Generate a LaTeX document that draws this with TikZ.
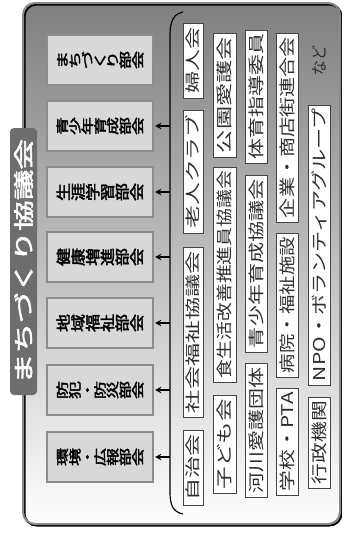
\documentclass[tikz,border=0pt]{standalone}
\usepackage{fontspec}
\usetikzlibrary{arrows.meta}
\newfontfamily\jp{Noto Sans CJK JP}
\newfontfamily\jpb[FakeBold=2.5]{Noto Sans CJK JP}
\definecolor{frame}{HTML}{8A8A8A}
\definecolor{shade}{HTML}{C4C4C4}
\definecolor{labelbg}{HTML}{6D6D6D}
\definecolor{boxbg}{HTML}{D8D8D8}
\definecolor{boxln}{HTML}{8C8C8C}
\definecolor{smln}{HTML}{444444}
\definecolor{smtx}{HTML}{2E2E2E}
\newcommand\vstk[1]{\vbox{\offinterlineskip\halign{\hfil\vrule height 0.88em depth 0.12em width 0pt ##\hfil\cr#1\crcr}}}
\begin{document}
\begin{tikzpicture}[x=1pt,y=-1pt,
  groupbox/.style={rotate=90,draw=boxln,line width=1.4pt,fill=boxbg,minimum width=50pt,minimum height=106pt,inner sep=0pt,font=\jpb,text=black},
  smallbox/.style={rotate=90,draw=smln,line width=0.8pt,fill=white,inner sep=0pt,font=\jp,text=smtx},
  arr/.style={line width=1.3pt,-{Stealth[length=6pt,width=6.5pt]},shorten >=1.5pt}]
\fill[white] (0,0) rectangle (342,533);
\useasboundingbox (0,0) rectangle (342,533);
% outer frame
\draw[shade,line width=2pt,rounded corners=12pt] (24.5,4.5) rectangle (341.5,525.5);
\draw[frame,line width=2pt,rounded corners=12pt] (23,3) rectangle (340,524);
% title label
\node[rotate=90,fill=labelbg,rounded corners=4pt,minimum width=267pt,minimum height=27pt,inner sep=0pt,font=\jpb,text=white] (title) at (23.5,261.5) {\resizebox*{245pt}{19pt}{まちづくり協議会}};
% group boxes
\node[groupbox] (b1) at (100,60)  {\resizebox*{18pt}{88pt}{\vstk{ま\cr ち\cr づ\cr く\cr り\cr 部\cr 会}}};
\node[groupbox] (b2) at (100,126) {\resizebox*{18pt}{88pt}{\vstk{青\cr 少\cr 年\cr 育\cr 成\cr 部\cr 会}}};
\node[groupbox] (b3) at (100,192) {\resizebox*{18pt}{88pt}{\vstk{生\cr 涯\cr 学\cr 習\cr 部\cr 会}}};
\node[groupbox] (b4) at (100,257) {\resizebox*{18pt}{88pt}{\vstk{健\cr 康\cr 増\cr 進\cr 部\cr 会}}};
\node[groupbox] (b5) at (100,323) {\resizebox*{18pt}{88pt}{\vstk{地\cr 域\cr 福\cr 祉\cr 部\cr 会}}};
\node[groupbox] (b6) at (100,390) {\resizebox*{18pt}{88pt}{\vstk{防\cr 犯\cr ・\cr 防\cr 災\cr 部\cr 会}}};
\node[groupbox] (b7) at (100,457) {\resizebox*{18pt}{88pt}{\vstk{環\cr 境\cr ・\cr 広\cr 報\cr 部\cr 会}}};
% bracket
\draw[black,line width=1.2pt] (183,12) .. controls (173,14) and (170,22) .. (170,36) -- (170,492) .. controls (170,505) and (173,512) .. (183,514);
\foreach \i/\yy in {2/126,3/192,4/257,5/323,6/390,7/457}{
  \coordinate (c\i) at (170,\yy);
  \draw[arr] (c\i) -- (b\i);
}
% member organisations
\node[smallbox,minimum width=75pt,minimum height=20pt] (m1) at (193,60.5) {\resizebox*{66pt}{14pt}{婦人会}};
\node[smallbox,minimum width=123pt,minimum height=20pt] (m2) at (193,171.5) {\resizebox*{114pt}{14pt}{老人クラブ}};
\node[smallbox,minimum width=170pt,minimum height=20pt] (m3) at (193,332) {\resizebox*{162pt}{14pt}{社会福祉協議会}};
\node[smallbox,minimum width=75pt,minimum height=20pt] (m4) at (193,467.5) {\resizebox*{66pt}{14pt}{自治会}};
\node[smallbox,minimum width=124pt,minimum height=23pt] (m5) at (224.5,95) {\resizebox*{116pt}{15pt}{公園愛護会}};
\node[smallbox,minimum width=215pt,minimum height=23pt] (m6) at (224.5,274.5) {\resizebox*{207pt}{15pt}{食生活改善推進員協議会}};
\node[smallbox,minimum width=98pt,minimum height=23pt] (m7) at (224.5,444) {\resizebox*{90pt}{15pt}{子ども会}};
\node[smallbox,minimum width=133pt,minimum height=22pt] (m8) at (256,96.5) {\resizebox*{125pt}{15pt}{体育指導委員}};
\node[smallbox,minimum width=177pt,minimum height=22pt] (m9) at (256,263.5) {\resizebox*{169pt}{15pt}{青少年育成協議会}};
\node[smallbox,minimum width=134pt,minimum height=22pt] (m10) at (256,430) {\resizebox*{126pt}{15pt}{河川愛護団体}};
\node[smallbox,minimum width=189pt,minimum height=22pt] (m11) at (287,127.5) {\resizebox*{181pt}{15pt}{企業・商店街連合会}};
\node[smallbox,minimum width=144pt,minimum height=22pt] (m12) at (287,305) {\resizebox*{136pt}{15pt}{病院・福祉施設}};
\node[smallbox,minimum width=107pt,minimum height=22pt] (m13) at (287,441.5) {\resizebox*{99pt}{15pt}{学校・PTA}};
\node[smallbox,minimum width=280pt,minimum height=22pt] (m14) at (319,245) {\resizebox*{272pt}{15pt}{NPO・ボランティアグループ}};
\node[smallbox,minimum width=91pt,minimum height=22pt] (m15) at (319,442.5) {\resizebox*{83pt}{15pt}{行政機関}};
\node[rotate=90,inner sep=0pt,font=\jp,text=smtx] (etc) at (319,60) {\resizebox*{30pt}{14pt}{など}};
\end{tikzpicture}
\end{document}
